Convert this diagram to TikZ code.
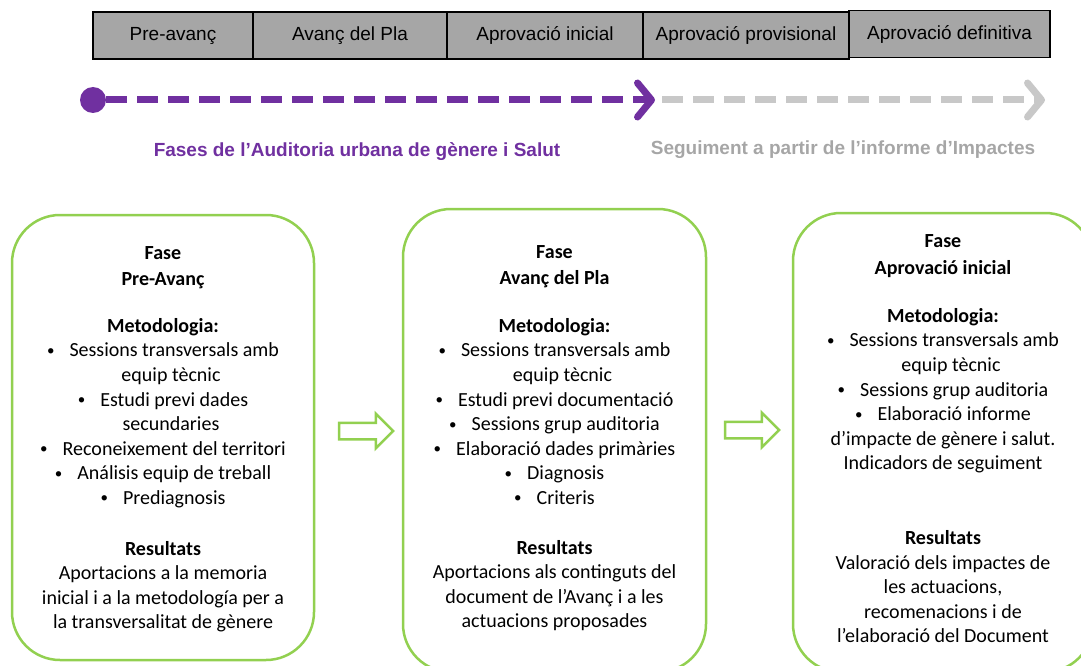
\documentclass[tikz,border=0pt]{standalone}
\usepackage{fontspec}
\setmainfont{Carlito}
\newfontfamily\arialfont{Liberation Sans}
\usetikzlibrary{shapes.arrows}
\usetikzlibrary{arrows.meta}
\definecolor{stagegray}{HTML}{A6A6A6}
\definecolor{audpurple}{HTML}{7030A0}
\definecolor{seggray}{HTML}{C8C8C8}
\definecolor{labelgray}{HTML}{A6A6A6}
\definecolor{phasegreen}{HTML}{92D050}
\newcommand{\bul}{\raisebox{1.6pt}{\fontsize{15}{15}\selectfont•}\hspace{15pt}}
\tikzset{
  stage/.style={draw=black,fill=stagegray,line width=1.2pt,minimum height=47pt,inner sep=0pt,font=\arialfont\fontsize{19}{22}\selectfont},
  phase box/.style={draw=phasegreen,line width=2.5pt,rounded corners=48pt},
  phase text/.style={align=center,anchor=north,inner sep=0pt,font=\fontsize{20}{24.6}\selectfont},
  step arrow/.style={single arrow,draw=phasegreen,line width=2.5pt,inner sep=7pt,single arrow head extend=9pt,minimum height=54pt},
  timeline/.style={line width=7pt,dash pattern=on 21pt off 10pt,-{Straight Barb[length=14pt,width=34pt,round]}},
  tl label/.style={font=\arialfont\bfseries\fontsize{19}{22}\selectfont}
}

\begin{document}
\begin{tikzpicture}[x=1pt,y=-1pt]
  \useasboundingbox (0,0) rectangle (1081,666);
  % fases del pla
  \node[stage,minimum width=160pt] (preavanc) at (173,35.5) {Pre-avanç};
  \node[stage,minimum width=194pt] (avanc) at (350,35.5) {Avanç del Pla};
  \node[stage,minimum width=196pt] (apinicial) at (545,35.5) {Aprovació inicial};
  \node[stage,minimum width=206pt] (approv) at (746,35.5) {Aprovació provisional};
  \node[stage,minimum width=201pt] (apdef) at (949.5,34) {Aprovació definitiva};

  % linia de temps
  \node[circle,fill=audpurple,minimum size=26pt,inner sep=0pt] (start) at (93,100) {};
  \coordinate (mid) at (655,100);
  \coordinate (segstart) at (662,100);
  \coordinate (end) at (1045,100);
  \draw[timeline,audpurple] (start) -- (mid);
  \draw[timeline,seggray] (segstart) -- (end);
  \node[tl label,text=audpurple] (audlabel) at (357,152) {Fases de l’Auditoria urbana de gènere i Salut};
  \node[tl label,text=labelgray] (seglabel) at (843,150) {Seguiment a partir de l’informe d’Impactes};

  % caixes
  \node[phase box,minimum width=302pt,minimum height=445pt] (prebox) at (163,437.5) {};
  \node[phase box,minimum width=303pt,minimum height=463pt] (avbox) at (554.5,440.5) {};
  \node[phase box,minimum width=300pt,minimum height=459pt] (inbox) at (943,442.5) {};
  \node[step arrow] (arrowA) at (362,431) {};
  \node[step arrow] (arrowB) at (748,430) {};

  \node[phase text] (pretext) at (163,246) {%
    \textbf{Fase}\\[2pt]
    \textbf{Pre-Avanç}\\[22pt]
    \textbf{Metodologia:}\\
    \bul Sessions transversals amb\\
    \hspace*{16pt}equip tècnic\\
    \bul Estudi previ dades\\
    \hspace*{16pt}secundaries\\
    \bul Reconeixement del territori\\
    \bul Análisis equip de treball\\
    \bul Prediagnosis\\[26pt]
    \textbf{Resultats}\\
    Aportacions a la memoria\\
    inicial i a la metodología per a\\
    la transversalitat de gènere};

  \node[phase text] (avtext) at (554.5,245) {%
    \textbf{Fase}\\[2pt]
    \textbf{Avanç del Pla}\\[23pt]
    \textbf{Metodologia:}\\
    \bul Sessions transversals amb\\
    \hspace*{16pt}equip tècnic\\
    \bul Estudi previ documentació\\
    \bul Sessions grup auditoria\\
    \bul Elaboració dades primàries\\
    \bul Diagnosis\\
    \bul Criteris\\[25pt]
    \textbf{Resultats}\\
    Aportacions als continguts del\\
    document de l’Avanç i a les\\
    actuacions proposades};

  \node[phase text] (intext) at (943,234) {%
    \textbf{Fase}\\[3pt]
    \textbf{Aprovació inicial}\\[23pt]
    \textbf{Metodologia:}\\
    \bul Sessions transversals amb\\
    \hspace*{16pt}equip tècnic\\
    \bul Sessions grup auditoria\\
    \bul Elaboració informe\\
    d’impacte de gènere i salut.\\
    Indicadors de seguiment\\[50pt]
    \textbf{Resultats}\\
    Valoració dels impactes de\\
    les actuacions,\\
    recomenacions i de\\
    l’elaboració del Document};
\end{tikzpicture}
\end{document}
